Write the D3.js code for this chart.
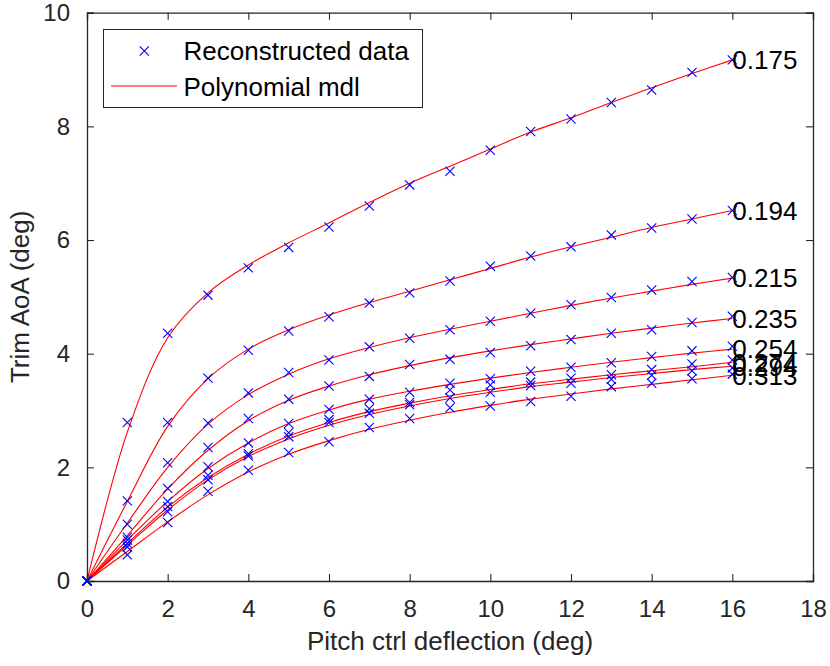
<!DOCTYPE html>
<html>
<head>
<meta charset="utf-8">
<script src="https://cdn.jsdelivr.net/npm/d3@7"></script>
<style>
  html, body { margin: 0; padding: 0; background: #fff; }
  svg { display: block; }
  text { font-family: "Liberation Sans", Arial, Helvetica, sans-serif; }
</style>
</head>
<body>
<svg id="chart" width="830" height="666"></svg>
<script>
// ---------------- data ----------------
const deflection = [0, 1, 2, 3, 4, 5, 6, 7, 8, 9, 10, 11, 12, 13, 14, 15, 16];
const seriesNames = ["0.175", "0.194", "0.215", "0.235", "0.254", "0.274", "0.294", "0.313"];

// reconstructed data (blue crosses)
const data175 = [0, 2.79, 4.36, 5.03, 5.51, 5.87, 6.23, 6.60, 6.97, 7.21, 7.58, 7.91, 8.13, 8.42, 8.64, 8.95, 9.17];
const data194 = [0, 1.41, 2.79, 3.57, 4.06, 4.40, 4.65, 4.89, 5.07, 5.28, 5.54, 5.72, 5.88, 6.09, 6.21, 6.37, 6.52];
const data215 = [0, 1.00, 2.08, 2.78, 3.31, 3.67, 3.89, 4.12, 4.27, 4.42, 4.57, 4.71, 4.86, 4.99, 5.12, 5.27, 5.34];
const data235 = [0, 0.77, 1.63, 2.35, 2.86, 3.20, 3.43, 3.60, 3.81, 3.90, 4.02, 4.14, 4.25, 4.36, 4.42, 4.55, 4.66];
const data254 = [0, 0.72, 1.40, 2.01, 2.43, 2.77, 3.02, 3.20, 3.32, 3.48, 3.56, 3.69, 3.76, 3.84, 3.95, 4.05, 4.13];
const data274 = [0, 0.66, 1.31, 1.86, 2.24, 2.61, 2.84, 3.03, 3.14, 3.36, 3.45, 3.50, 3.57, 3.63, 3.72, 3.82, 3.89];
const data294 = [0, 0.60, 1.22, 1.78, 2.20, 2.54, 2.79, 2.95, 3.10, 3.22, 3.32, 3.44, 3.48, 3.55, 3.62, 3.70, 3.75];
const data313 = [0, 0.46, 1.03, 1.58, 1.95, 2.26, 2.45, 2.70, 2.86, 3.05, 3.08, 3.16, 3.25, 3.42, 3.48, 3.56, 3.64];

// polynomial model (red lines)
const mdl175 = [0, 2.62, 4.28, 5.07, 5.56, 5.95, 6.30, 6.66, 7.00, 7.30, 7.60, 7.90, 8.15, 8.42, 8.68, 8.93, 9.17];
const mdl194 = [0, 1.40, 2.72, 3.56, 4.08, 4.42, 4.68, 4.90, 5.10, 5.30, 5.50, 5.70, 5.88, 6.05, 6.22, 6.37, 6.52];
const mdl215 = [0, 1.02, 2.00, 2.76, 3.28, 3.64, 3.91, 4.11, 4.28, 4.43, 4.57, 4.71, 4.85, 4.98, 5.10, 5.22, 5.33];
const mdl235 = [0, 0.80, 1.62, 2.30, 2.82, 3.18, 3.43, 3.63, 3.79, 3.93, 4.05, 4.16, 4.26, 4.36, 4.45, 4.54, 4.62];
const mdl254 = [0, 0.72, 1.40, 1.98, 2.43, 2.77, 3.01, 3.20, 3.34, 3.46, 3.57, 3.67, 3.76, 3.85, 3.93, 4.01, 4.08];
const mdl274 = [0, 0.66, 1.30, 1.82, 2.23, 2.55, 2.79, 2.98, 3.13, 3.26, 3.37, 3.47, 3.55, 3.63, 3.70, 3.77, 3.85];
const mdl294 = [0, 0.63, 1.25, 1.78, 2.19, 2.50, 2.74, 2.93, 3.08, 3.21, 3.32, 3.42, 3.50, 3.58, 3.65, 3.72, 3.78];
const mdl313 = [0, 0.52, 1.04, 1.52, 1.92, 2.23, 2.47, 2.67, 2.83, 2.97, 3.09, 3.20, 3.29, 3.38, 3.46, 3.54, 3.62];

const xTicks = [0, 2, 4, 6, 8, 10, 12, 14, 16, 18];
const yTicks = [0, 2, 4, 6, 8, 10];
const xLabel = "Pitch ctrl deflection (deg)";
const yLabel = "Trim AoA (deg)";
const legendLabels = ["Reconstructed data", "Polynomial mdl"];

const dataSeries = [data175, data194, data215, data235, data254, data274, data294, data313];
const mdlSeries = [mdl175, mdl194, mdl215, mdl235, mdl254, mdl274, mdl294, mdl313];

// ---------------- layout ----------------
const svg = d3.select("#chart");
const L = 87, R = 813, T = 12.7, B = 581;
const x = d3.scaleLinear().domain([0, 18]).range([L, R]);
const y = d3.scaleLinear().domain([0, 10]).range([B, T]);
const axisColor = "#262626";
const tickLen = 7;

svg.append("rect").attr("x", L).attr("y", T).attr("width", R - L).attr("height", B - T).attr("fill", "#fff");

// model lines
const line = d3.line()
  .x((d, i) => x(deflection[i]))
  .y(d => y(d))
  .curve(d3.curveCatmullRom.alpha(0.5));

const gLines = svg.append("g");
mdlSeries.forEach(s => {
  gLines.append("path").attr("d", line(s))
    .attr("fill", "none").attr("stroke", "#ff0000").attr("stroke-width", 1.1);
});

// data markers
const cross = "M-4.6,-4.6L4.6,4.6M-4.6,4.6L4.6,-4.6";
const gPts = svg.append("g");
dataSeries.forEach(s => {
  gPts.selectAll(null).data(s).enter().append("path")
    .attr("transform", (d, i) => `translate(${x(deflection[i])},${y(d)})`)
    .attr("d", cross)
    .attr("fill", "none").attr("stroke", "#0000ff").attr("stroke-width", 1.1);
});

// curve labels
const gLab = svg.append("g");
mdlSeries.forEach((s, k) => {
  gLab.append("text")
    .attr("x", x(deflection[deflection.length - 1]))
    .attr("y", y(s[s.length - 1]))
    .attr("dy", "0.36em")
    .attr("font-size", 26)
    .attr("fill", "#000")
    .text(seriesNames[k]);
});

// axes (box)
const gAx = svg.append("g");
const xAxisB = d3.axisBottom(x).tickValues(xTicks).tickSize(-tickLen).tickPadding(12 + tickLen).tickFormat(d3.format("d"));
const xAxisT = d3.axisTop(x).tickValues(xTicks).tickSize(-tickLen).tickFormat("");
const yAxisL = d3.axisLeft(y).tickValues(yTicks).tickSize(-tickLen).tickPadding(10 + tickLen).tickFormat(d3.format("d"));
const yAxisR = d3.axisRight(y).tickValues(yTicks).tickSize(-tickLen).tickFormat("");

function styleAxis(g) {
  g.select(".domain").attr("stroke", axisColor).attr("stroke-width", 1.3);
  g.selectAll(".tick line").attr("stroke", axisColor).attr("stroke-width", 1.1);
  g.selectAll(".tick text").attr("fill", axisColor).attr("font-size", 24)
    .attr("font-family", "'Liberation Sans', Arial, sans-serif");
}
gAx.append("g").attr("transform", `translate(0,${B})`).call(xAxisB).call(styleAxis);
gAx.append("g").attr("transform", `translate(0,${T})`).call(xAxisT).call(styleAxis);
gAx.append("g").attr("transform", `translate(${L},0)`).call(yAxisL).call(styleAxis);
gAx.append("g").attr("transform", `translate(${R},0)`).call(yAxisR).call(styleAxis);

// axis labels
svg.append("text")
  .attr("x", (L + R) / 2).attr("y", 650)
  .attr("text-anchor", "middle").attr("font-size", 26).attr("fill", axisColor)
  .text(xLabel);
svg.append("text")
  .attr("transform", `translate(29,${(T + B) / 2}) rotate(-90)`)
  .attr("text-anchor", "middle").attr("font-size", 26).attr("fill", axisColor)
  .text(yLabel);

// legend
const lg = svg.append("g");
lg.append("rect").attr("x", 103.5).attr("y", 29.5).attr("width", 319).attr("height", 78)
  .attr("fill", "#fff").attr("stroke", axisColor).attr("stroke-width", 1);
lg.append("path").attr("transform", "translate(144.3,51)").attr("d", cross)
  .attr("fill", "none").attr("stroke", "#0000ff").attr("stroke-width", 1.1);
lg.append("line").attr("x1", 111).attr("x2", 177).attr("y1", 86).attr("y2", 86)
  .attr("stroke", "#ff0000").attr("stroke-width", 1.1);
lg.append("text").attr("x", 183.5).attr("y", 51).attr("dy", "0.36em").attr("font-size", 26).attr("fill", "#000").text(legendLabels[0]);
lg.append("text").attr("x", 183.5).attr("y", 87).attr("dy", "0.36em").attr("font-size", 26).attr("fill", "#000").text(legendLabels[1]);
</script>
</body>
</html>
